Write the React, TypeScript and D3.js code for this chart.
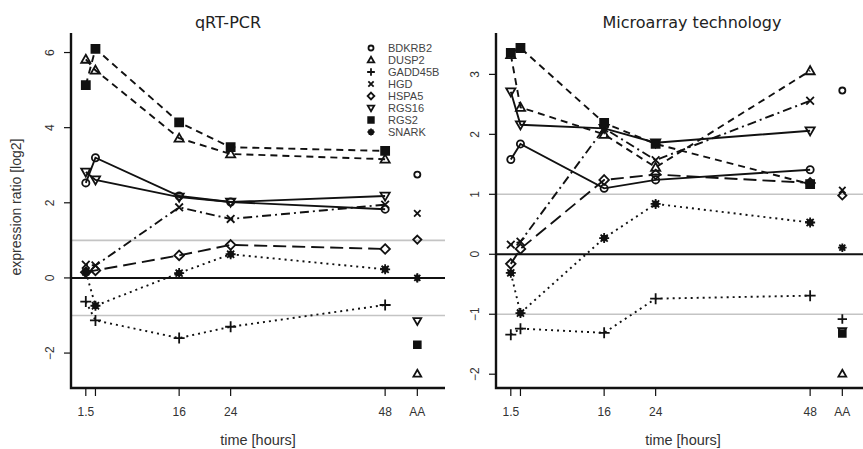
import { useEffect, useRef } from 'react';
import * as d3 from 'd3';

// time points (hours); AA drawn as an extra column
const times = [1.5, 3, 16, 24, 48];
const aaTime = 53;
const tickLabels = ['1.5', '', '16', '24', '48', 'AA'];
const genes = ['BDKRB2', 'DUSP2', 'GADD45B', 'HGD', 'HSPA5', 'RGS16', 'RGS2', 'SNARK'];

// qRT-PCR, log2 ratios at 1.5, 3, 16, 24, 48 h
const pcrBDKRB2 = [2.53, 3.2, 2.18, 2.02, 1.83];
const pcrDUSP2 = [5.82, 5.53, 3.72, 3.3, 3.16];
const pcrGADD45B = [-0.63, -1.13, -1.6, -1.3, -0.72];
const pcrHGD = [0.35, 0.33, 1.88, 1.57, 1.95];
const pcrHSPA5 = [0.15, 0.2, 0.6, 0.88, 0.77];
const pcrRGS16 = [2.82, 2.61, 2.15, 2.02, 2.18];
const pcrRGS2 = [5.13, 6.1, 4.14, 3.48, 3.38];
const pcrSNARK = [0.16, -0.74, 0.13, 0.63, 0.23];
const pcrAA = [2.75, -2.55, 0.0, 1.72, 1.02, -1.15, -1.78, 0.0];

// microarray, log2 ratios
const arrBDKRB2 = [1.58, 1.84, 1.1, 1.24, 1.41];
const arrDUSP2 = [3.33, 2.45, 2.0, 1.45, 3.06];
const arrGADD45B = [-1.34, -1.24, -1.31, -0.74, -0.69];
const arrHGD = [0.16, 0.21, 2.1, 1.57, 2.56];
const arrHSPA5 = [-0.16, 0.09, 1.24, 1.33, 1.19];
const arrRGS16 = [2.71, 2.16, 2.1, 1.86, 2.06];
const arrRGS2 = [3.36, 3.44, 2.19, 1.84, 1.17];
const arrSNARK = [-0.31, -0.98, 0.27, 0.84, 0.53];
const arrAA = [2.73, -1.99, -1.08, 1.07, 0.98, -1.28, -1.32, 0.11];

const pcrSeries = [pcrBDKRB2, pcrDUSP2, pcrGADD45B, pcrHGD, pcrHSPA5, pcrRGS16, pcrRGS2, pcrSNARK];
const arrSeries = [arrBDKRB2, arrDUSP2, arrGADD45B, arrHGD, arrHSPA5, arrRGS16, arrRGS2, arrSNARK];

// R-ish styling per gene
const shapes = ['circle', 'triangle', 'plus', 'cross', 'diamond', 'triangleDown', 'square', 'star'];
const dashes = ['', '7,5', '2,4', '2,4,9,4', '13,6', '', '7,5', '2,4'];

const FONT = '"Liberation Sans", Arial, sans-serif';

function marker(g, kind, x, y, s = 1) {
  const sw = 1.8;
  const add = (d, filled = false) =>
    g.append('path').attr('d', d).attr('fill', filled ? '#111' : 'none')
      .attr('stroke', '#111').attr('stroke-width', sw);
  const r = 3.6 * s;
  if (kind === 'circle') {
    g.append('circle').attr('cx', x).attr('cy', y).attr('r', r)
      .attr('fill', 'none').attr('stroke', '#111').attr('stroke-width', sw);
  } else if (kind === 'triangle') {
    const h = 4.6 * s;
    add(`M${x},${y - h}L${x + h},${y + h * 0.75}L${x - h},${y + h * 0.75}Z`);
  } else if (kind === 'triangleDown') {
    const h = 4.6 * s;
    add(`M${x},${y + h}L${x + h},${y - h * 0.75}L${x - h},${y - h * 0.75}Z`);
  } else if (kind === 'plus') {
    const h = 5.5 * s;
    add(`M${x - h},${y}H${x + h}M${x},${y - h}V${y + h}`);
  } else if (kind === 'cross') {
    const h = 3.8 * s;
    add(`M${x - h},${y - h}L${x + h},${y + h}M${x - h},${y + h}L${x + h},${y - h}`);
  } else if (kind === 'diamond') {
    const h = 4.8 * s;
    add(`M${x},${y - h}L${x + h},${y}L${x},${y + h}L${x - h},${y}Z`);
  } else if (kind === 'square') {
    const h = 4 * s;
    add(`M${x - h},${y - h}H${x + h}V${y + h}H${x - h}Z`, true);
  } else if (kind === 'star') {
    g.append('circle').attr('cx', x).attr('cy', y).attr('r', 3.4 * s).attr('fill', '#111');
    const h = 5 * s;
    const d = d3.range(4).map((i) => {
      const a = (i * Math.PI) / 4;
      const dx = Math.cos(a) * h, dy = Math.sin(a) * h;
      return `M${x - dx},${y - dy}L${x + dx},${y + dy}`;
    }).join('');
    add(d);
  }
}

function drawPanel(svg, opt) {
  const { left, right, top, bottom, yDomain, yTicks, series, aa, title, titleX } = opt;
  const g = svg.append('g');
  const x = d3.scaleLinear().domain([-0.8, 57.3]).range([left, right]);
  const y = d3.scaleLinear().domain(yDomain).range([bottom, top]);

  // reference lines
  [-1, 1].forEach((v) => {
    g.append('line').attr('x1', left).attr('x2', right).attr('y1', y(v)).attr('y2', y(v))
      .attr('stroke', '#c4c4c4').attr('stroke-width', 1.6);
  });
  g.append('line').attr('x1', left).attr('x2', right).attr('y1', y(0)).attr('y2', y(0))
    .attr('stroke', '#111').attr('stroke-width', 2);

  // series lines
  const line = d3.line().x((d) => x(d[0])).y((d) => y(d[1]));
  series.forEach((vals, i) => {
    g.append('path').datum(times.map((t, j) => [t, vals[j]]))
      .attr('d', line).attr('fill', 'none').attr('stroke', '#111')
      .attr('stroke-width', 1.9).attr('stroke-dasharray', dashes[i] || null);
  });
  series.forEach((vals, i) => {
    times.forEach((t, j) => marker(g, shapes[i], x(t), y(vals[j])));
    marker(g, shapes[i], x(aaTime), y(aa[i]), 0.85);
  });

  // axes (L-shaped box)
  g.append('path').attr('d', `M${left},${top}V${bottom}H${right}`)
    .attr('fill', 'none').attr('stroke', '#111').attr('stroke-width', 2.4);
  yTicks.forEach((v) => {
    g.append('line').attr('x1', left - 7).attr('x2', left).attr('y1', y(v)).attr('y2', y(v))
      .attr('stroke', '#111').attr('stroke-width', 1.2);
    g.append('text').attr('transform', `translate(${left - 17},${y(v)}) rotate(-90)`)
      .attr('text-anchor', 'middle').attr('font-family', FONT).attr('font-size', 12)
      .attr('fill', '#333').text(d3.format('d')(v));
  });
  [...times, aaTime].forEach((t, i) => {
    g.append('line').attr('x1', x(t)).attr('x2', x(t)).attr('y1', bottom).attr('y2', bottom + 8)
      .attr('stroke', '#111').attr('stroke-width', 1.2);
    if (tickLabels[i]) {
      g.append('text').attr('x', x(t)).attr('y', bottom + 28).attr('text-anchor', 'middle')
        .attr('font-family', FONT).attr('font-size', 12).attr('fill', '#333').text(tickLabels[i]);
    }
  });
  g.append('text').attr('x', (left + right) / 2).attr('y', bottom + 57).attr('text-anchor', 'middle')
    .attr('font-family', FONT).attr('font-size', 14.5).attr('fill', '#333').text('time [hours]');
  g.append('text').attr('x', titleX).attr('y', 28).attr('text-anchor', 'middle')
    .attr('font-family', '"DejaVu Sans", sans-serif').attr('font-size', 16).attr('fill', '#222')
    .text(title);
}

const App = () => {
  const svgRef = useRef(null);

  useEffect(() => {
    const w = 863;
    const h = 449;
    const svg = d3.select(svgRef.current).attr('width', w).attr('height', h);
    svg.selectAll('*').remove();
    svg.append('rect').attr('width', w).attr('height', h).attr('fill', '#fff');

    drawPanel(svg, {
      left: 71, right: 445, top: 33, bottom: 388,
      yDomain: [-2.93, 6.52], yTicks: [-2, 0, 2, 4, 6],
      series: pcrSeries, aa: pcrAA, title: 'qRT-PCR', titleX: 228,
    });
    drawPanel(svg, {
      left: 496, right: 870, top: 33, bottom: 388,
      yDomain: [-2.23, 3.69], yTicks: [-2, -1, 0, 1, 2, 3],
      series: arrSeries, aa: arrAA, title: 'Microarray technology', titleX: 692,
    });

    // y label
    svg.append('text').attr('transform', 'translate(21,207) rotate(-90)')
      .attr('text-anchor', 'middle').attr('font-family', FONT).attr('font-size', 14)
      .attr('fill', '#333').text('expression ratio [log2]');

    // legend
    const lg = svg.append('g');
    genes.forEach((name, i) => {
      const cy = 48 + i * 12;
      marker(lg, shapes[i], 371, cy, 0.7);
      lg.append('text').attr('x', 388).attr('y', cy).attr('dy', '0.35em')
        .attr('font-family', FONT).attr('font-size', 11).attr('fill', '#444').text(name);
    });
  }, []);

  return (
    <div style={{ position: 'absolute', left: 0, top: 0 }}>
      <svg ref={svgRef}></svg>
    </div>
  );
};

export default App;
